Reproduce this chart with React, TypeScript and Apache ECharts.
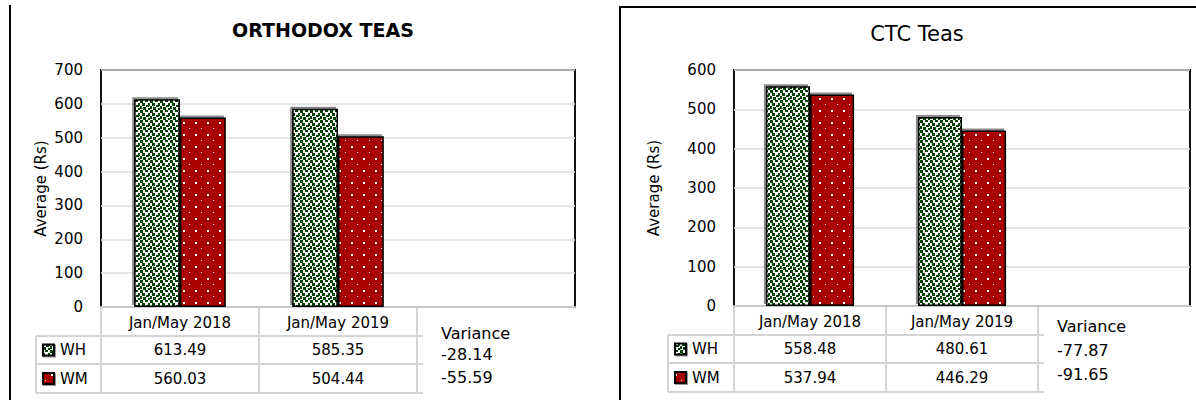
import React, { useEffect, useRef } from "react";
import * as echarts from "echarts";

// ---- data ----
const periods = ["Jan/May 2018", "Jan/May 2019"];
const seriesNames = ["WH", "WM"];
const orthodoxWH = [613.49, 585.35];
const orthodoxWM = [560.03, 504.44];
const orthodoxVariance = [-28.14, -55.59];
const ctcWH = [558.48, 480.61];
const ctcWM = [537.94, 446.29];
const ctcVariance = [-77.87, -91.65];
const orthodoxAxis = { min: 0, max: 700, interval: 100 };
const ctcAxis = { min: 0, max: 600, interval: 100 };
const panelTitles = ["ORTHODOX TEAS", "CTC Teas"];
const yAxisName = "Average (Rs)";
const varianceLabel = "Variance";

const FONT = "DejaVu Sans";

function makeTile(size: number, bg: string, fg: string, rects: number[][]) {
  const c = document.createElement("canvas");
  c.width = size;
  c.height = size;
  const ctx = c.getContext("2d")!;
  ctx.fillStyle = bg;
  ctx.fillRect(0, 0, size, size);
  ctx.fillStyle = fg;
  rects.forEach(([x, y, w, h]) => ctx.fillRect(x, y, w, h));
  return { image: c.toDataURL(), repeat: "repeat", imageWidth: size, imageHeight: size };
}

export default function App() {
  const ref = useRef<HTMLDivElement>(null);

  useEffect(() => {
    if (!ref.current) return;
    const chart = echarts.init(ref.current, undefined, { renderer: "svg" });

    const whPattern = makeTile(10, "#ffffff", "#064006", [
      [0, 0, 3, 3], [5, 0, 3, 2], [8, 3, 2, 3],
      [2, 3, 3, 3], [6, 5, 3, 2],
      [0, 6, 2, 3], [3, 7, 3, 3], [8, 8, 2, 2],
    ]);
    const wmPattern = makeTile(12, "#a80000", "#ffffff", [
      [3, 2, 2, 2], [9, 8, 1, 1],
    ]);
    const patterns = [whPattern, wmPattern];

    const panels = [
      {
        grid: { left: 101, top: 70, width: 474, height: 237 },
        axis: orthodoxAxis,
        wh: orthodoxWH, wm: orthodoxWM, variance: orthodoxVariance,
        labelColLeft: 36,
        rows: [307, 336, 364, 393],
        varY: [333, 354, 377],
        varDx: 24,
        nameGap: 53,
        titleX: 323, titleTop: 20, titleWeight: "bold", titleSize: 19,
      },
      {
        grid: { left: 734, top: 70, width: 456, height: 236 },
        axis: ctcAxis,
        wh: ctcWH, wm: ctcWM, variance: ctcVariance,
        labelColLeft: 668,
        rows: [306, 335, 363, 392],
        varY: [326, 350, 374],
        varDx: 19,
        nameGap: 73,
        titleX: 917, titleTop: 23, titleWeight: "normal", titleSize: 21,
      },
    ];

    const graphic: any[] = [
      { type: "line", shape: { x1: 10, y1: 5, x2: 10, y2: 400 }, style: { stroke: "#000", lineWidth: 2 }, silent: true },
      { type: "rect", shape: { x: 620, y: 7, width: 700, height: 500 }, style: { fill: "none", stroke: "#000", lineWidth: 2 }, silent: true },
    ];

    const gridLine = "#d4d4d4";
    panels.forEach((p) => {
      const catW = p.grid.width / 3;
      const L = p.grid.left;
      const r = p.rows;
      const tableRight = L + 2 * catW + 6;
      [r[1], r[2], r[3]].forEach((y) => {
        graphic.push({ type: "line", shape: { x1: p.labelColLeft, y1: y, x2: tableRight, y2: y }, style: { stroke: gridLine, lineWidth: 2 }, silent: true });
      });
      [0, 1, 2].forEach((k) => {
        const x = L + k * catW;
        graphic.push({ type: "line", shape: { x1: x, y1: r[0], x2: x, y2: r[3] }, style: { stroke: gridLine, lineWidth: 2 }, silent: true });
      });
      graphic.push({ type: "line", shape: { x1: p.labelColLeft, y1: r[1], x2: p.labelColLeft, y2: r[3] }, style: { stroke: gridLine, lineWidth: 2 }, silent: true });

      const values = [p.wh, p.wm];
      values.forEach((vals, s) => {
        const cy = (r[s + 1] + r[s + 2]) / 2;
        graphic.push({
          type: "rect",
          shape: { x: p.labelColLeft + 7, y: cy - 5.5, width: 11, height: 11 },
          style: { fill: patterns[s], stroke: "#000", lineWidth: 2, shadowColor: "rgba(0,0,0,0.4)", shadowOffsetX: 1, shadowOffsetY: 1, shadowBlur: 1 },
          silent: true,
        });
        graphic.push({
          type: "text", x: p.labelColLeft + 24, y: cy,
          style: { text: seriesNames[s], fill: "#000", font: `15px "${FONT}"`, textAlign: "left", textVerticalAlign: "middle" },
          silent: true,
        });
        vals.forEach((v, i) => {
          graphic.push({
            type: "text", x: L + (i + 0.5) * catW, y: cy,
            style: { text: v.toFixed(2), fill: "#000", font: `15px "${FONT}"`, textAlign: "center", textVerticalAlign: "middle" },
            silent: true,
          });
        });
      });
      const vx = L + 2 * catW + p.varDx;
      graphic.push({
        type: "text", x: vx, y: p.varY[0],
        style: { text: varianceLabel, fill: "#000", font: `16px "${FONT}"`, textAlign: "left", textVerticalAlign: "middle" },
        silent: true,
      });
      p.variance.forEach((v, i) => {
        graphic.push({
          type: "text", x: vx, y: p.varY[i + 1],
          style: { text: v.toFixed(2), fill: "#000", font: `16px "${FONT}"`, textAlign: "left", textVerticalAlign: "middle" },
          silent: true,
        });
      });
    });

    const barItem = (s: number) => ({
      color: patterns[s],
      borderColor: "#000",
      borderWidth: 1.5,
      shadowColor: "rgba(0,0,0,0.45)",
      shadowOffsetX: -2,
      shadowOffsetY: -2,
      shadowBlur: 1,
    });

    const option: any = {
      animation: false,
      textStyle: { fontFamily: FONT },
      title: panels.map((p, i) => ({
        text: panelTitles[i],
        left: p.titleX,
        top: p.titleTop,
        textAlign: "center",
        padding: 0,
        textStyle: { fontFamily: FONT, fontSize: p.titleSize, fontWeight: p.titleWeight, color: "#000" },
      })),
      grid: panels.map((p) => ({
        ...p.grid,
        show: true,
        backgroundColor: "#fff",
        borderColor: "#111",
        borderWidth: 2,
        containLabel: false,
      })),
      xAxis: panels.map((p, i) => ({
        type: "category",
        gridIndex: i,
        data: [...periods, ""],
        axisLine: { show: true, lineStyle: { color: "#c8c8c8", width: 2 } },
        axisTick: { show: false },
        axisLabel: { interval: 0, margin: 8, color: "#000", fontSize: 15, fontFamily: FONT },
        splitLine: { show: false },
      })),
      yAxis: panels.map((p, i) => ({
        type: "value",
        gridIndex: i,
        min: p.axis.min,
        max: p.axis.max,
        interval: p.axis.interval,
        name: yAxisName,
        nameLocation: "middle",
        nameGap: p.nameGap,
        nameTextStyle: { color: "#000", fontSize: 15, fontFamily: FONT },
        axisLine: { show: false },
        axisTick: { show: false },
        axisLabel: { color: "#000", fontSize: 15, fontFamily: FONT, margin: 18 },
        splitLine: { show: true, lineStyle: { color: "#dcdcdc", width: 1.5 } },
      })),
      series: panels.flatMap((p, i) =>
        [p.wh, p.wm].map((vals, s) => ({
          type: "bar",
          name: seriesNames[s],
          xAxisIndex: i,
          yAxisIndex: i,
          data: vals,
          barGap: "0%",
          barCategoryGap: "42%",
          itemStyle: barItem(s),
          emphasis: { disabled: true },
          silent: true,
        }))
      ),
      graphic,
    };

    chart.setOption(option);
    return () => chart.dispose();
  }, []);

  return (
    <div
      ref={ref}
      style={{ position: "fixed", left: 0, top: 0, width: 1196, height: 400, background: "#fff" }}
    />
  );
}
